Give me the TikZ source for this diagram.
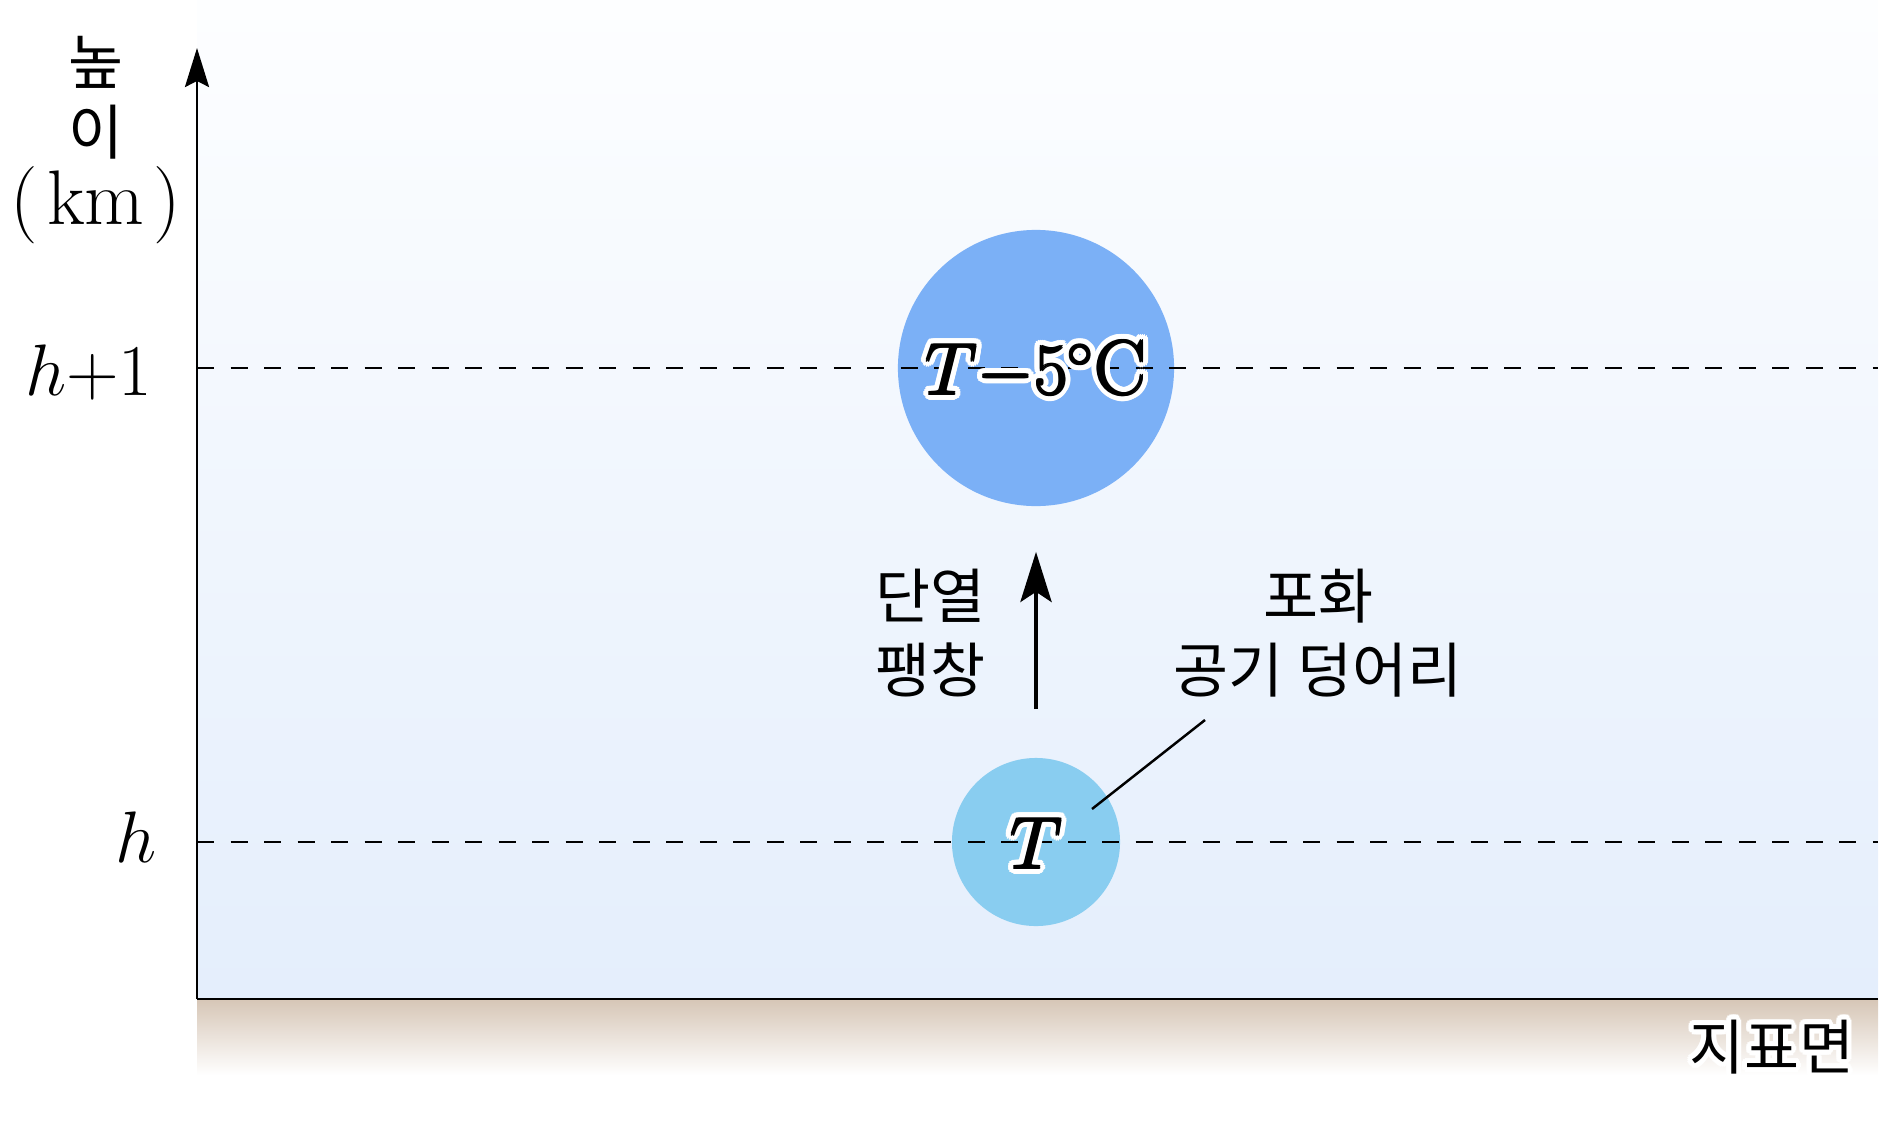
\documentclass[tikz,border=0pt]{standalone}
\usepackage{fontspec}
\usepackage{amsmath}
\usepackage{tikz}
\usetikzlibrary{positioning}
\usetikzlibrary{arrows.meta}

\newfontfamily\kr{Noto Sans CJK KR}
\newcommand\mathsize{\fontsize{22}{26}\selectfont}
\newcommand\korsize{\fontsize{17}{21}\selectfont}
\definecolor{skytop}{RGB}{253,254,255}
\definecolor{skybot}{RGB}{228,238,252}
\definecolor{groundtop}{RGB}{214,198,182}
\definecolor{bigblue}{RGB}{123,176,246}
\definecolor{smallblue}{RGB}{137,205,240}

% white halo behind a text
\newcommand\halotext[1]{%
	\foreach \ang in {0,22.5,...,337.5}{%
		\pgfmathsetlengthmacro\hx{0.05cm*cos(\ang)}%
		\pgfmathsetlengthmacro\hy{0.05cm*sin(\ang)}%
		\rlap{\kern\hx\raise\hy\hbox{\color{white}#1}}}%
	#1}
% heavier strokes for the temperatures
\newcommand\heavytext[1]{%
	\foreach \bang in {45,135,225,315}{%
		\pgfmathsetlengthmacro\bx{0.4pt*cos(\bang)}%
		\pgfmathsetlengthmacro\by{0.4pt*sin(\bang)}%
		\rlap{\kern\bx\raise\by\hbox{#1}}}%
	#1}

\begin{document}
\begin{tikzpicture}[x=0.01cm, y=-0.01cm]

\tikzset{parcel/.style={
		circle,
		inner sep=0pt,
		minimum size=#1
	},
	level line/.style={
		dash pattern=on 0.17cm off 0.165cm,
		line width=0.65pt
	},
	kor label/.style={
		font=\kr\korsize,
		align=center,
		inner sep=0pt
	},
	math label/.style={
		font=\mathsize,
		inner sep=0pt
	}
}
\useasboundingbox (0,0) rectangle (1897,1121);

% sky and ground
\shade[top color=skytop, bottom color=skybot] (197,0) rectangle (1878,999);
\shade[top color=groundtop, bottom color=white] (197,999) rectangle (1878,1075);

\coordinate (origin) at (197,999);
\coordinate (ytop) at (197,48);
\coordinate (xend) at (1878,999);
\coordinate (lone) at (197,368);
\coordinate (lone end) at (1878,368);
\coordinate (lzero) at (197,842);
\coordinate (lzero end) at (1878,842);

% air parcels
\node[parcel=2.76cm, fill=bigblue] (big) at (1036,368) {};
\node[parcel=1.68cm, fill=smallblue] (small) at (1036,842) {};

\draw[level line] (lone) -- (lone end);
\draw[level line] (lzero) -- (lzero end);

\draw[line width=0.75pt, -{Stealth[length=0.39cm, width=0.24cm, inset=0.06cm]}] (origin) -- (ytop);
\draw[line width=0.7pt] (origin) -- (xend);

\draw[line width=1.4pt, shorten <=0.48cm, shorten >=0.45cm,
	-{Stealth[length=0.5cm, width=0.31cm, inset=0.1cm]}] (small) -- (big);

\node[math label, anchor=base] (Tbig) at (1036,394) {\halotext{\heavytext{$T{-}5{}^{\circ}\mathrm{C}$}}};
\node[math label, anchor=base] (Tsmall) at (1036,868) {\halotext{\heavytext{$T$}}};

\node[math label, anchor=base east] (hone) at (153,395) {$h{+}1$};
\node[math label, anchor=base east] (hzero) at (157,862) {$h$};

\node[kor label, font=\kr\fontsize{17}{20}\selectfont] (ylabel) at (96,140)
	{높\\이\\{\rmfamily\mathsize(\kern0.12em km\kern0.12em)}};

\node[kor label] (adiabatic) at (930,633) {단열\\팽창};
\node[kor label] (saturated) at (1318,633) {포화\\공기 덩어리};
\node[kor label, anchor=east] (ground) at (1855,1047) {\halotext{지표면}};

\coordinate (pin) at (1092,809);
\coordinate (pin end) at (1205,720);
\draw[line width=0.7pt] (pin) -- (pin end);

\end{tikzpicture}
\end{document}
